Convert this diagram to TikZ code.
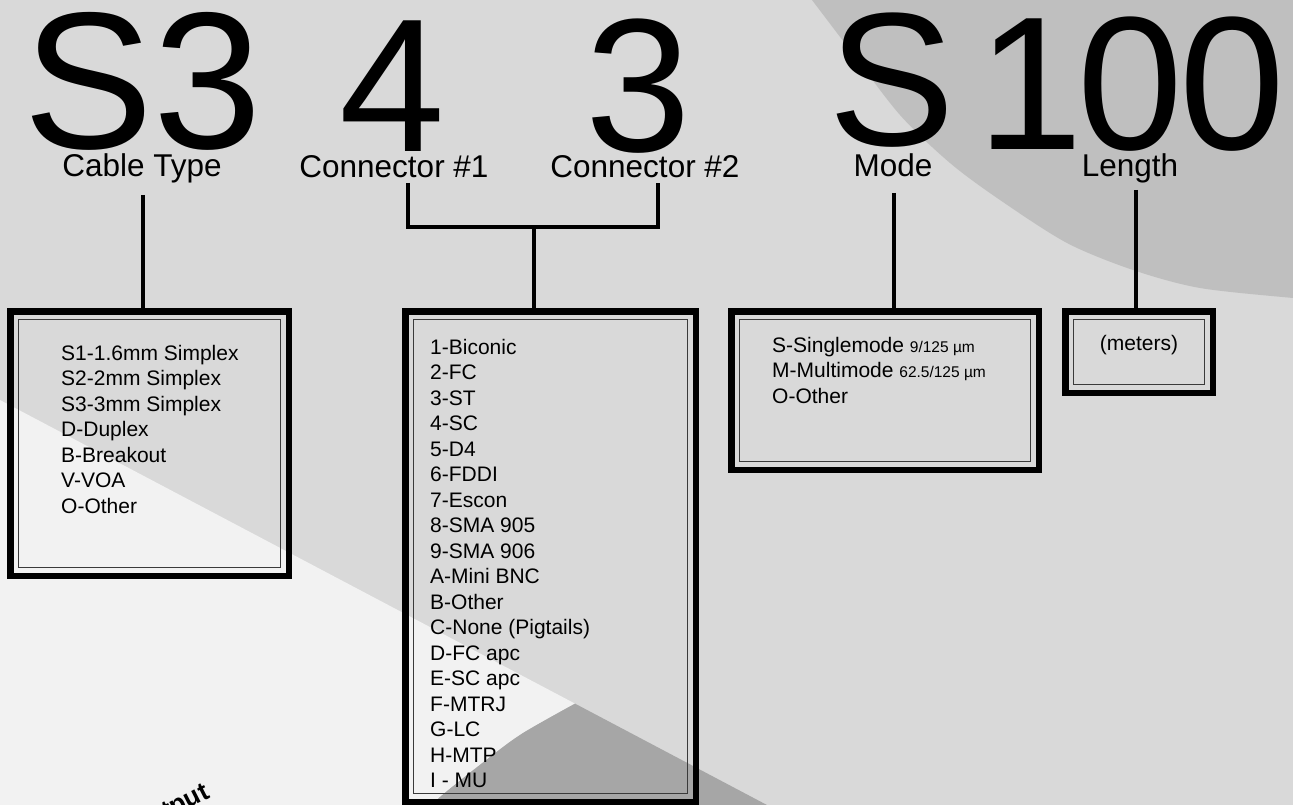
\documentclass[tikz,border=0pt]{standalone}
\usepackage{fontspec}
\setmainfont{Liberation Sans}
\definecolor{bgmain}{HTML}{D9D9D9}
\definecolor{topgray}{HTML}{BFBFBF}
\definecolor{lightbg}{HTML}{F2F2F2}
\definecolor{darkbg}{HTML}{A6A6A6}
\definecolor{innergray}{HTML}{3A3A3A}
\begin{document}
\begin{tikzpicture}[x=1pt,y=-1pt,
  bigchar/.style={font=\fontsize{190}{200}\selectfont, inner sep=0pt, anchor=base},
  lbl/.style={font=\fontsize{31.5}{36}\selectfont, inner sep=0pt, anchor=base},
  conn/.style={line width=4.5pt},
  codebox/.style={draw, line width=6.5pt, inner sep=0pt, outer sep=0pt},
  innerbox/.style={draw=innergray, line width=1.3pt},
  listtxt/.style={font=\fontsize{21}{25.5}\selectfont, inner sep=0pt, anchor=base west}]
\useasboundingbox (0,0) rectangle (1293,805);
\clip (0,0) rectangle (1293,805);
% background
\fill[bgmain] (0,0) rectangle (1293,805);
\fill[topgray] (805,-10) -- plot[smooth] coordinates {(812,0) (850,50) (900,115) (950,163) (1000,200) (1067,243) (1133,270) (1200,288) (1293,298) (1310,299)} -- (1310,-10) -- cycle;
\fill[lightbg] (-5,397.4) -- plot[smooth] coordinates {(575,703.6) (523,733) (490,757) (440,797) (428,812)} -- (-5,812) -- cycle;
\fill[darkbg] plot[smooth] coordinates {(575,703.6) (523,733) (490,757) (440,797) (428,812)} -- (784,814) -- cycle;

% big code characters
\node[bigchar, font=\fontsize{195}{200}\selectfont, anchor=base west] (cs3) at (23,149) {S3};
\node[bigchar] (c4) at (392,152) {4};
\node[bigchar] (c3) at (638,152) {3};
\node[bigchar] (cs) at (891.5,146) {S};
\node[bigchar, anchor=base west] (c100) at (977,150) {1\kern-5.6pt 0\kern-3.6pt 0};

% labels
\node[lbl] (cablelbl) at (142,177) {Cable Type};
\node[lbl] (c1lbl) at (394,178) {Connector \#1};
\node[lbl] (c2lbl) at (645,178) {Connector \#2};
\node[lbl] (modelbl) at (893,177) {Mode};
\node[lbl] (lenlbl) at (1130,177) {Length};

% boxes
\node[codebox, minimum width=278.5pt, minimum height=264.5pt] (cable) at (149.5,443.5) {};
\node[codebox, minimum width=290.5pt, minimum height=490.5pt] (conbox) at (550.5,556.5) {};
\node[codebox, minimum width=307.5pt, minimum height=158.5pt] (modebox) at (885,390.5) {};
\node[codebox, minimum width=147.5pt, minimum height=81.5pt] (lenbox) at (1139,352) {};
\foreach \b in {cable,conbox,modebox,lenbox}
  \draw[innerbox] ([shift={(8.5,8.5)}]\b.north west) rectangle ([shift={(-8.5,-8.5)}]\b.south east);

% connectors
\coordinate (cabletop) at ([xshift=1pt,yshift=-18pt]cablelbl.base);
\draw[conn] (cabletop) -- (cabletop |- cable.north);
\coordinate (b1) at ([xshift=14pt,yshift=-5pt]c1lbl.base);
\coordinate (b2) at ([xshift=13pt,yshift=-5pt]c2lbl.base);
\coordinate (j) at (534,227);
\draw[conn] (b1) |- (j) -| (b2);
\draw[conn] (j) -- (j |- conbox.north);
\coordinate (modetop) at ([xshift=1pt,yshift=-16pt]modelbl.base);
\draw[conn] (modetop) -- (modetop |- modebox.north);
\coordinate (lentop) at ([xshift=6pt,yshift=-13pt]lenlbl.base);
\draw[conn] (lentop) -- (lentop |- lenbox.north);

% box texts
\node[listtxt] (cabletxt) at (61,360) {\begin{tabular}[t]{@{}l@{}}
S1-1.6mm Simplex\\ S2-2mm Simplex\\ S3-3mm Simplex\\ D-Duplex\\ B-Breakout\\ V-VOA\\ O-Other
\end{tabular}};
\node[listtxt] (contxt) at (430,354) {\begin{tabular}[t]{@{}l@{}}
1-Biconic\\ 2-FC\\ 3-ST\\ 4-SC\\ 5-D4\\ 6-FDDI\\ 7-Escon\\ 8-SMA 905\\ 9-SMA 906\\ A-Mini BNC\\ B-Other\\ C-None (Pigtails)\\ D-FC apc\\ E-SC apc\\ F-MTRJ\\ G-LC\\ H-MTP\\ I - MU
\end{tabular}};
\node[listtxt] (modetxt) at (772,352) {\begin{tabular}[t]{@{}l@{}}
S-Singlemode {\fontsize{15.5}{25.5}\selectfont 9/125 µm}\\
M-Multimode {\fontsize{15.5}{25.5}\selectfont 62.5/125 µm}\\
O-Other
\end{tabular}};
\node[listtxt, anchor=base] (lentxt) at (1139,350) {(meters)};

% partial rotated text
\node[font=\fontsize{26}{30}\selectfont\bfseries, rotate=27, anchor=base east, inner sep=0pt] (outlbl) at (211,797) {Output};
\end{tikzpicture}
\end{document}
